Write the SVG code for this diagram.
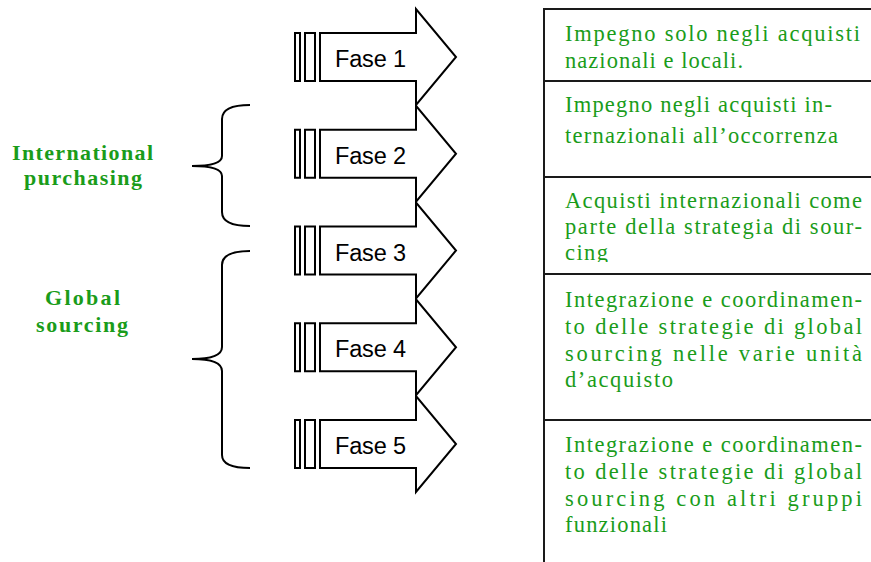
<svg xmlns="http://www.w3.org/2000/svg" width="871" height="562" viewBox="0 0 871 562">
  <defs>
    <style>
      .arrow { fill: #ffffff; stroke: #000000; stroke-width: 2; stroke-linejoin: miter; }
      .stripe { fill: #ffffff; stroke: #000000; stroke-width: 2; }
      .phase { font-family: "Liberation Sans", Arial, sans-serif; font-size: 23.5px; fill: #000000; }
      .brace { fill: none; stroke: #000000; stroke-width: 2; }
      .group-label { font-family: "Liberation Serif", "Times New Roman", serif; font-weight: bold; font-size: 22px; fill: #1a9c1a; }
      .cell-line { stroke: #1a1a1a; stroke-width: 2; fill: none; }
      .cell-text { font-family: "Liberation Serif", "Times New Roman", serif; font-size: 22.5px; fill: #1a9c1a; }
    </style>
    <!-- striped right arrow, tip at (456, 0) -->
    <g id="phase-arrow">
      <rect class="stripe" x="295" y="-24" width="5" height="48"/>
      <rect class="stripe" x="305" y="-24" width="10" height="48"/>
      <path class="arrow" d="M320,-24 L416,-24 L416,-48 L456,0 L416,48 L416,24 L320,24 Z"/>
    </g>
    <clipPath id="row3-clip">
      <rect x="545" y="178" width="326" height="84"/>
    </clipPath>
  </defs>

  <!-- phase arrows -->
  <g id="fase1">
    <use href="#phase-arrow" transform="translate(0,57)"/>
    <text class="phase" x="335" y="67" textLength="71">Fase 1</text>
  </g>
  <g id="fase2">
    <use href="#phase-arrow" transform="translate(0,153.75)"/>
    <text class="phase" x="335" y="163.75" textLength="71">Fase 2</text>
  </g>
  <g id="fase3">
    <use href="#phase-arrow" transform="translate(0,250.5)"/>
    <text class="phase" x="335" y="260.5" textLength="71">Fase 3</text>
  </g>
  <g id="fase4">
    <use href="#phase-arrow" transform="translate(0,347.25)"/>
    <text class="phase" x="335" y="357.25" textLength="71">Fase 4</text>
  </g>
  <g id="fase5">
    <use href="#phase-arrow" transform="translate(0,444)"/>
    <text class="phase" x="335" y="454" textLength="71">Fase 5</text>
  </g>

  <!-- grouping braces -->
  <g id="connectors">
    <path class="brace" d="M250,105 Q222,105 222,119 L222,156 Q222,166 192,166 Q222,166 222,176 L222,212 Q222,226 250,226"/>
    <path class="brace" d="M250,251 Q222,251 222,265 L222,347 Q222,359 192,359 Q222,359 222,371 L222,455 Q222,468 250,468"/>
  </g>

  <g id="international-purchasing">
    <text class="group-label" x="12" y="160" textLength="141">International</text>
    <text class="group-label" x="24" y="185" textLength="118">purchasing</text>
  </g>
  <g id="global-sourcing">
    <text class="group-label" x="45" y="305" textLength="75">Global</text>
    <text class="group-label" x="36" y="332" textLength="92">sourcing</text>
  </g>

  <!-- description table -->
  <g id="table">
    <line class="cell-line" x1="544" y1="9" x2="871" y2="9"/>
    <line class="cell-line" x1="544" y1="8" x2="544" y2="562"/>
    <line class="cell-line" x1="544" y1="81" x2="871" y2="81"/>
    <line class="cell-line" x1="544" y1="177" x2="871" y2="177"/>
    <line class="cell-line" x1="544" y1="274" x2="871" y2="274" stroke-width="2.5"/>
    <line class="cell-line" x1="544" y1="420" x2="871" y2="420" stroke-width="2.5"/>
  </g>

  <g id="row1">
    <text class="cell-text" x="565" y="41" textLength="295">Impegno solo negli acquisti</text>
    <text class="cell-text" x="565" y="68" textLength="178">nazionali e locali.</text>
  </g>
  <g id="row2">
    <text class="cell-text" x="565" y="112" textLength="267">Impegno negli acquisti in-</text>
    <text class="cell-text" x="565" y="143" textLength="273">ternazionali all’occorrenza</text>
  </g>
  <g id="row3" clip-path="url(#row3-clip)">
    <text class="cell-text" x="565" y="208" textLength="297">Acquisti internazionali come</text>
    <text class="cell-text" x="565" y="234" textLength="297">parte della strategia di sour-</text>
    <text class="cell-text" x="565" y="260" textLength="43">cing</text>
  </g>
  <g id="row4">
    <text class="cell-text" x="565" y="307" textLength="297">Integrazione e coordinamen-</text>
    <text class="cell-text" x="565" y="334" textLength="297">to delle strategie di global</text>
    <text class="cell-text" x="565" y="361" textLength="297">sourcing nelle varie unità</text>
    <text class="cell-text" x="565" y="387" textLength="108">d’acquisto</text>
  </g>
  <g id="row5">
    <text class="cell-text" x="565" y="452" textLength="297">Integrazione e coordinamen-</text>
    <text class="cell-text" x="565" y="479" textLength="297">to delle strategie di global</text>
    <text class="cell-text" x="565" y="506" textLength="297">sourcing con altri gruppi</text>
    <text class="cell-text" x="565" y="532" textLength="102">funzionali</text>
  </g>
</svg>
